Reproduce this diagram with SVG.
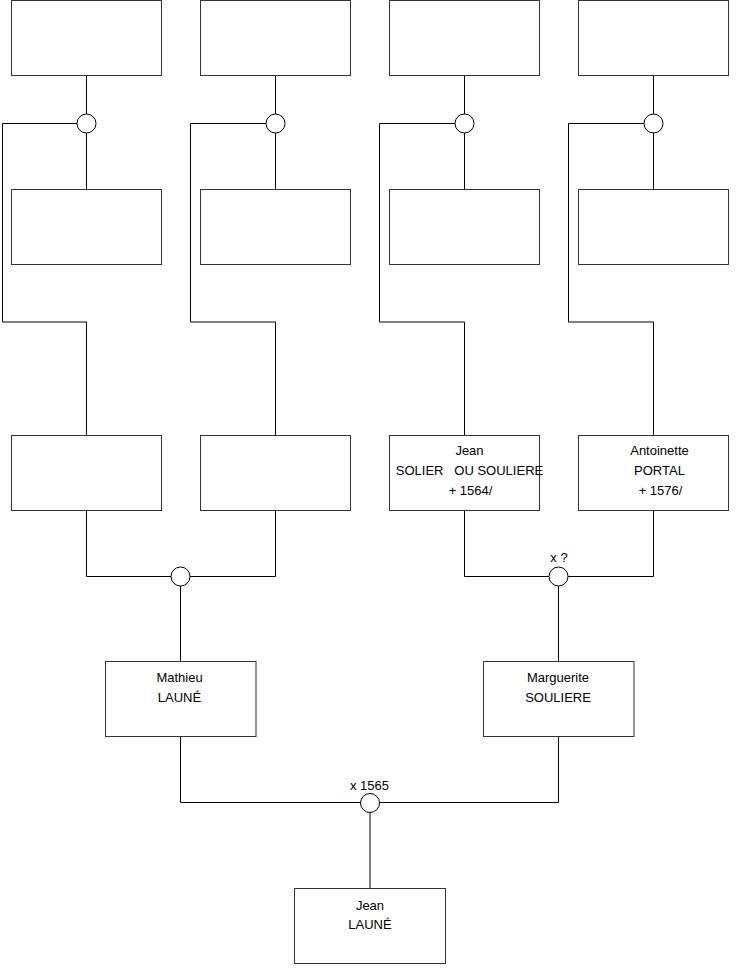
<svg xmlns="http://www.w3.org/2000/svg" width="740" height="975" viewBox="0 0 740 975">
<style>
.box{fill:#fff;stroke:#333;stroke-width:1}
.ln{fill:none;stroke:#000;stroke-width:1}
.c{fill:#fff;stroke:#000;stroke-width:1}
text{font-family:"Liberation Sans",Arial,sans-serif;font-size:13px;fill:#000;text-anchor:middle}
</style>
<rect width="740" height="975" fill="#fff"/>
<g id="connectors">
<path class="ln" d="M86.5 76V190M86.5 123.5H2.5V322H86.5V435"/>
<path class="ln" d="M275.5 76V190M275.5 123.5H190.5V322H275.5V435"/>
<path class="ln" d="M464.5 76V190M464.5 123.5H379.5V322H464.5V435"/>
<path class="ln" d="M653.5 76V190M653.5 123.5H568.5V322H653.5V435"/>
<path class="ln" d="M86.5 511V576.5H275.5V511M180.5 576.5V662"/>
<path class="ln" d="M464.5 511V576.5H653.5V511M558.5 576.5V662"/>
<path class="ln" d="M180.5 737V802.5H558.5V737M370 802.5V888"/>
<circle class="c" cx="86.5" cy="123.5" r="9.5"/>
<circle class="c" cx="275.5" cy="123.5" r="9.5"/>
<circle class="c" cx="464.5" cy="123.5" r="9.5"/>
<circle class="c" cx="653.5" cy="123.5" r="9.5"/>
<circle class="c" cx="180.5" cy="576.5" r="9.5"/>
<circle class="c" cx="558.5" cy="576.5" r="9.5"/>
<circle class="c" cx="370" cy="803" r="9.5"/>
<text x="559" y="562">x ?</text>
<text x="369.5" y="790">x 1565</text>
</g>
<g id="n1"><rect class="box" x="11.5" y="0.5" width="150" height="75"/></g>
<g id="n2"><rect class="box" x="200.5" y="0.5" width="150" height="75"/></g>
<g id="n3"><rect class="box" x="389.5" y="0.5" width="150" height="75"/></g>
<g id="n4"><rect class="box" x="578.5" y="0.5" width="150" height="75"/></g>
<g id="n5"><rect class="box" x="11.5" y="189.5" width="150" height="75"/></g>
<g id="n6"><rect class="box" x="200.5" y="189.5" width="150" height="75"/></g>
<g id="n7"><rect class="box" x="389.5" y="189.5" width="150" height="75"/></g>
<g id="n8"><rect class="box" x="578.5" y="189.5" width="150" height="75"/></g>
<g id="n9"><rect class="box" x="11.5" y="435.5" width="150" height="75"/></g>
<g id="n10"><rect class="box" x="200.5" y="435.5" width="150" height="75"/></g>
<g id="n11"><rect class="box" x="389.5" y="435.5" width="150" height="75"/>
<text x="469.5" y="455">Jean</text>
<text x="469.5" y="475" xml:space="preserve">SOLIER   OU SOULIERE</text>
<text x="470.5" y="495">+ 1564/</text></g>
<g id="n12"><rect class="box" x="578.5" y="435.5" width="150" height="75"/>
<text x="659.5" y="455">Antoinette</text>
<text x="659.5" y="475">PORTAL</text>
<text x="660.5" y="495">+ 1576/</text></g>
<g id="n13"><rect class="box" x="105.5" y="661.5" width="150.5" height="75"/>
<text x="179.5" y="682">Mathieu</text>
<text x="179.5" y="702">LAUNÉ</text></g>
<g id="n14"><rect class="box" x="483.5" y="661.5" width="150.5" height="75"/>
<text x="558" y="682">Marguerite</text>
<text x="558" y="702">SOULIERE</text></g>
<g id="n15"><rect class="box" x="294.5" y="888.5" width="151" height="75"/>
<text x="370" y="910">Jean</text>
<text x="370" y="929">LAUNÉ</text></g>
</svg>
